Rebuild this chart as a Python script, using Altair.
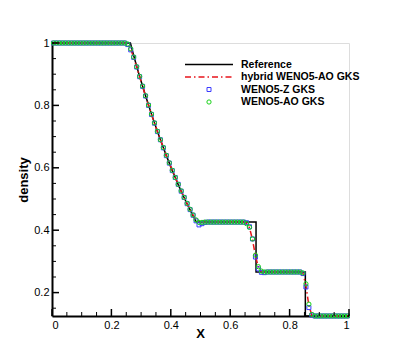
import altair as alt
import pandas as pd

# cell centres of the 100-cell grid
cell_x = [round(0.005 + 0.01 * i, 3) for i in range(100)]

hybrid = ([1.0] * 25 +
          [0.996, 0.980, 0.954, 0.923, 0.892, 0.861, 0.830, 0.800, 0.771, 0.743,
           0.716, 0.690, 0.664, 0.639, 0.615, 0.591, 0.569, 0.547, 0.525, 0.505,
           0.485, 0.466, 0.448, 0.432, 0.424, 0.425] +
          [0.426] * 14 +
          [0.422, 0.408, 0.370, 0.318, 0.281, 0.268] +
          [0.266] * 13 +
          [0.262, 0.222, 0.158, 0.127] +
          [0.125] * 12)

wenoz = ([1.0] * 25 +
         [0.995, 0.978, 0.954, 0.923, 0.892, 0.861, 0.830, 0.800, 0.771, 0.743,
          0.716, 0.690, 0.664, 0.639, 0.615, 0.591, 0.569, 0.547, 0.525, 0.505,
          0.485, 0.466, 0.448, 0.430, 0.417, 0.421, 0.425] +
         [0.426] * 13 +
         [0.424, 0.411, 0.372, 0.314, 0.276, 0.265, 0.264] +
         [0.266] * 12 +
         [0.261, 0.218, 0.152, 0.128] +
         [0.125] * 12)

wenoao = ([1.0] * 25 +
          [0.997, 0.981, 0.955, 0.924, 0.893, 0.862, 0.831, 0.801, 0.772, 0.744,
           0.717, 0.690, 0.665, 0.640, 0.616, 0.592, 0.569, 0.547, 0.526, 0.505,
           0.486, 0.467, 0.449, 0.433, 0.425, 0.425] +
          [0.426] * 14 +
          [0.421, 0.409, 0.372, 0.320, 0.283, 0.269] +
          [0.266] * 13 +
          [0.263, 0.228, 0.163, 0.130] +
          [0.125] * 12)

ref_x = [0.0, 0.264, 0.275, 0.285, 0.295, 0.305, 0.315, 0.325, 0.335, 0.345,
         0.355, 0.365, 0.375, 0.385, 0.395, 0.405, 0.415, 0.425, 0.435, 0.445,
         0.455, 0.465, 0.475, 0.486, 0.687, 0.687, 0.853, 0.853, 1.0]
ref_rho = [1.0, 1.0, 0.960, 0.926, 0.893, 0.862, 0.831, 0.801, 0.772, 0.744,
           0.716, 0.690, 0.664, 0.639, 0.615, 0.591, 0.569, 0.546, 0.525, 0.504,
           0.484, 0.465, 0.446, 0.426, 0.426, 0.266, 0.266, 0.125, 0.125]

x_major = [0.0, 0.2, 0.4, 0.6, 0.8, 1.0]
x_minor = [0.05, 0.1, 0.15, 0.25, 0.3, 0.35, 0.45, 0.5, 0.55, 0.65, 0.7, 0.75,
           0.85, 0.9, 0.95]
y_major = [0.2, 0.4, 0.6, 0.8, 1.0]
y_minor = [0.15, 0.25, 0.3, 0.35, 0.45, 0.5, 0.55, 0.65, 0.7, 0.75, 0.85, 0.9, 0.95]

legend_labels = ["Reference", "hybrid WENO5-AO GKS", "WENO5-Z GKS", "WENO5-AO GKS"]

W, H = 297, 273
FONT = "Liberation Sans"
BLUE = "#3b3bff"
GREEN = "#19d219"
RED = "#e8141b"

xs = alt.Scale(domain=[0, 1], nice=False)
ys = alt.Scale(domain=[0.125, 1], nice=False, zero=False)
xax = alt.Axis(values=x_major, format="~g", ticks=False, grid=False, title=None,
               domainColor="black", domainWidth=2, labelFontSize=11, labelFont=FONT,
               labelColor="black", labelPadding=3)
yax = alt.Axis(values=y_major, format="~g", ticks=False, grid=False, title=None,
               domainColor="black", domainWidth=2, labelFontSize=11, labelFont=FONT,
               labelColor="black", labelPadding=3)

ref_df = pd.DataFrame({"x": ref_x, "rho": ref_rho, "o": list(range(len(ref_x)))})
hyb_df = pd.DataFrame({"x": cell_x, "rho": hybrid})
z_df = pd.DataFrame({"x": cell_x, "rho": wenoz})
ao_df = pd.DataFrame({"x": cell_x, "rho": wenoao})

ref = alt.Chart(ref_df).mark_line(color="black", strokeWidth=1.5).encode(
    x=alt.X("x:Q", scale=xs, axis=xax),
    y=alt.Y("rho:Q", scale=ys, axis=yax),
    order="o:Q",
)
hyb = alt.Chart(hyb_df).mark_line(color=RED, strokeWidth=1.5, strokeDash=[6, 3, 1.5, 3]).encode(
    x=alt.X("x:Q", scale=xs, axis=xax),
    y=alt.Y("rho:Q", scale=ys, axis=yax),
)
zpts = alt.Chart(z_df).mark_point(shape="square", filled=False, size=16, strokeWidth=1,
                                  color=BLUE, opacity=1).encode(
    x=alt.X("x:Q", scale=xs, axis=xax),
    y=alt.Y("rho:Q", scale=ys, axis=yax),
)
aopts = alt.Chart(ao_df).mark_point(shape="circle", filled=False, size=18, strokeWidth=1,
                                    color=GREEN, opacity=1).encode(
    x=alt.X("x:Q", scale=xs, axis=xax),
    y=alt.Y("rho:Q", scale=ys, axis=yax),
)

# inward ticks
xmaj = alt.Chart(pd.DataFrame({"t": x_major})).mark_rule(color="black", strokeWidth=1.5).encode(
    x=alt.X("t:Q", scale=xs, axis=xax), y=alt.value(H), y2=alt.value(H - 7))
xmin = alt.Chart(pd.DataFrame({"t": x_minor})).mark_rule(color="black", strokeWidth=1).encode(
    x=alt.X("t:Q", scale=xs, axis=xax), y=alt.value(H), y2=alt.value(H - 4))
ymaj = alt.Chart(pd.DataFrame({"t": y_major})).mark_rule(color="black", strokeWidth=1.5).encode(
    y=alt.Y("t:Q", scale=ys, axis=yax), x=alt.value(0), x2=alt.value(7))
ymin = alt.Chart(pd.DataFrame({"t": y_minor})).mark_rule(color="black", strokeWidth=1).encode(
    y=alt.Y("t:Q", scale=ys, axis=yax), x=alt.value(0), x2=alt.value(4))

# axis titles
xtitle = alt.Chart(pd.DataFrame({"s": ["X"]})).mark_text(
    font=FONT, fontSize=13, fontWeight="bold", align="center", baseline="middle", color="black"
).encode(text="s:N", x=alt.value(W / 2), y=alt.value(H + 18))
ytitle = alt.Chart(pd.DataFrame({"s": ["density"]})).mark_text(
    font=FONT, fontSize=13, fontWeight="bold", align="center", baseline="middle", angle=270,
    color="black"
).encode(text="s:N", x=alt.value(-28), y=alt.value(137))

# legend
rows = [21.5, 34, 46.5, 59]
lx0, lx1, ltx = 133, 181, 189
leg = []
for lab, yy in zip(legend_labels, rows):
    leg.append(alt.Chart(pd.DataFrame({"s": [lab]})).mark_text(
        font=FONT, fontSize=10.5, fontWeight="bold", align="left", baseline="middle",
        color="black").encode(text="s:N", x=alt.value(ltx), y=alt.value(yy)))
leg.append(alt.Chart(pd.DataFrame({"s": [legend_labels[0]]})).mark_rule(
    color="black", strokeWidth=1.5).encode(x=alt.value(lx0), x2=alt.value(lx1), y=alt.value(rows[0])))
leg.append(alt.Chart(pd.DataFrame({"s": [legend_labels[1]]})).mark_rule(
    color=RED, strokeWidth=1.5, strokeDash=[6, 3, 1.5, 3]).encode(
    x=alt.value(lx0), x2=alt.value(lx1), y=alt.value(rows[1])))
leg.append(alt.Chart(pd.DataFrame({"s": [legend_labels[2]]})).mark_point(
    shape="square", filled=False, size=16, strokeWidth=1, color=BLUE, opacity=1).encode(
    x=alt.value((lx0 + lx1) / 2), y=alt.value(rows[2])))
leg.append(alt.Chart(pd.DataFrame({"s": [legend_labels[3]]})).mark_point(
    shape="circle", filled=False, size=18, strokeWidth=1, color=GREEN, opacity=1).encode(
    x=alt.value((lx0 + lx1) / 2), y=alt.value(rows[3])))

chart = alt.layer(ref, hyb, zpts, aopts, xmaj, xmin, ymaj, ymin, xtitle, ytitle, *leg).properties(
    width=W, height=H,
    autosize=alt.AutoSizeParams(type="none"),
    padding={"left": 44, "top": 35, "right": 42, "bottom": 31},
).configure_view(stroke=None).configure(background="white")

chart.save("out.html", embed_options={"renderer": "svg", "actions": False})
